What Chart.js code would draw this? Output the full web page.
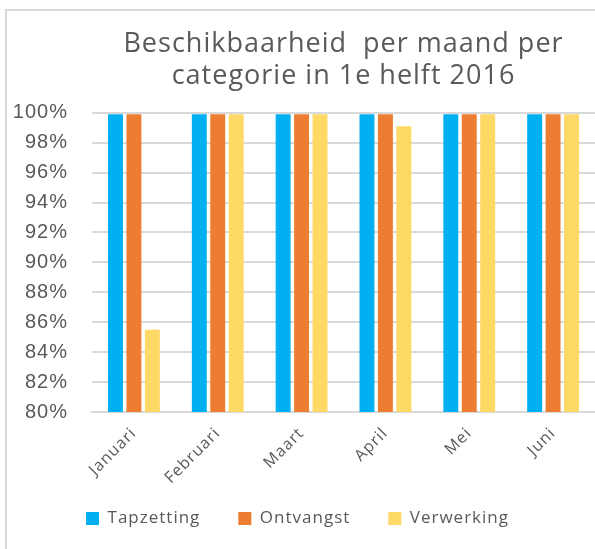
<!DOCTYPE html>
<html>
<head>
<meta charset="utf-8">
<script src="https://cdn.jsdelivr.net/npm/chart.js@4/dist/chart.umd.min.js"></script>
<style>
    html, body { margin: 0; padding: 0; background: #fff; overflow: hidden; }
    #frame {
        position: absolute; left: 5px; top: 9px;
        width: 700px; height: 700px;
        border: 2px solid #d9d9d9;
    }
    #wrap { position: absolute; left: 0; top: 0; width: 595px; height: 549px; }
</style>
</head>
<body>
<div id="frame"></div>
<div id="wrap"><canvas id="beschikbaarheidChart"></canvas></div>
<script>
// maanden en beschikbaarheid per categorie (in %)
var maanden = ['Januari', 'Februari', 'Maart', 'April', 'Mei', 'Juni'];
var tapzetting = [99.9, 99.9, 99.9, 99.9, 99.9, 99.9];
var ontvangst = [99.9, 99.9, 99.9, 99.9, 99.9, 99.9];
var verwerking = [85.5, 99.9, 99.9, 99.1, 99.9, 99.9];

var yMin = 80, yMax = 100, yStap = 2;

var grijs = '#595959';
var lijnGrijs = '#d9d9d9';

// iets ruimere letterafstand voor alle tekst op het canvas
var letterAfstand = {
    id: 'letterAfstand',
    beforeUpdate: function (chart) { chart.ctx.letterSpacing = '1px'; },
    beforeDraw: function (chart) { chart.ctx.letterSpacing = '1px'; }
};

// maandlabels lopen door in de lege ruimte boven de legenda,
// dus de x-as mag ze daar niet afknippen
var labelRuimte = {
    id: 'labelRuimte',
    afterLayout: function (chart) {
        chart.scales.x.bottom = chart.height;
    }
};

var ctx = document.getElementById('beschikbaarheidChart');

new Chart(ctx, {
    type: 'bar',
    data: {
        labels: maanden,
        datasets: [
            { label: 'Tapzetting', data: tapzetting, backgroundColor: '#00b0f0' },
            { label: 'Ontvangst', data: ontvangst, backgroundColor: '#ed7d31' },
            { label: 'Verwerking', data: verwerking, backgroundColor: '#ffd966' }
        ]
    },
    plugins: [letterAfstand, labelRuimte],
    options: {
        responsive: true,
        maintainAspectRatio: false,
        animation: false,
        datasets: {
            bar: { barPercentage: 0.81, categoryPercentage: 0.66 }
        },
        layout: { padding: { left: 0, right: 0, top: 0, bottom: 12 } },
        scales: {
            x: {
                grid: { display: false, drawTicks: false },
                border: { display: true, color: lijnGrijs, width: 2 },
                ticks: {
                    color: grijs,
                    autoSkip: false,
                    minRotation: 45,
                    maxRotation: 45,
                    padding: 12,
                    font: { family: 'Open Sans', size: 16 }
                },
                afterFit: function (scale) { scale.height = 60; }
            },
            y: {
                min: yMin,
                max: yMax,
                grid: { color: lijnGrijs, lineWidth: 2, drawTicks: false },
                border: { display: false },
                ticks: {
                    stepSize: yStap,
                    color: grijs,
                    padding: 24,
                    font: { family: 'Liberation Sans', size: 20 },
                    callback: function (v) { return v + '%'; }
                },
                afterFit: function (scale) { scale.width = 92; }
            }
        },
        plugins: {
            title: {
                display: true,
                fullSize: false,
                text: ['Beschikbaarheid  per maand per', 'categorie in 1e helft 2016'],
                color: grijs,
                font: { family: 'Open Sans', size: 27, weight: 'normal', lineHeight: 1.2 },
                padding: { top: 28, bottom: 20 }
            },
            legend: {
                position: 'bottom',
                labels: {
                    color: grijs,
                    boxWidth: 13,
                    boxHeight: 13,
                    padding: 38,
                    font: { family: 'Open Sans', size: 17 }
                }
            },
            tooltip: { enabled: false }
        }
    }
});
</script>
</body>
</html>
